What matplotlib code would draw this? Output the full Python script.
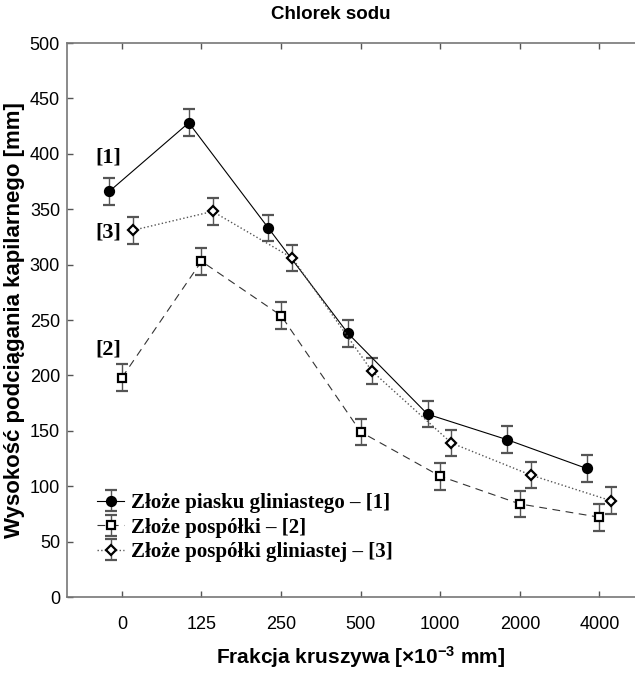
import numpy as np
import matplotlib.pyplot as plt

# Frakcje kruszywa (kategorie na osi X)
frakcje = ['0', '125', '250', '500', '1000', '2000', '4000']

# Wysokość podciągania kapilarnego [mm]
piasek_gliniasty = [366, 428, 333, 238, 165, 142, 116]
pospolka = [198, 303, 254, 149, 109, 84, 72]
pospolka_gliniasta = [331, 348, 306, 204, 139, 110, 87]

# Odchylenia (słupki błędów)
err_1 = [12, 12, 12, 12, 12, 12, 12]
err_2 = [12, 12, 12, 12, 12, 12, 12]
err_3 = [12, 12, 12, 12, 12, 12, 12]

x = np.arange(len(frakcje))

fig = plt.figure(figsize=(6.35, 6.73), dpi=100)
ax = fig.add_axes([0.1055, 0.1129, 0.925, 0.8232])

kw = dict(ecolor='#555555', elinewidth=1.0, capsize=4, capthick=1.0,
          markeredgewidth=1.6)

ax.errorbar(x - 0.16, piasek_gliniasty, yerr=err_1, fmt='o', color='black',
            ls='-', lw=0.8, mfc='black', mec='black', markersize=6.5,
            label='Złoże piasku gliniastego – [1]', **kw)
ax.errorbar(x, pospolka, yerr=err_2, fmt='s', color='#333333',
            ls=(0, (7, 5)), lw=0.8, mfc='white', mec='black', markersize=5.5,
            label='Złoże pospółki – [2]', **kw)
ax.errorbar(x + 0.14, pospolka_gliniasta, yerr=err_3, fmt='D', color='#555555',
            ls=':', lw=1.0, mfc='white', mec='black', markersize=5,
            label='Złoże pospółki gliniastej – [3]', **kw)

# Oznaczenia serii przy pierwszych punktach
for txt, yv in [('[1]', 397), ('[3]', 329), ('[2]', 223)]:
    ax.text(-0.01, yv, txt, ha='right', va='center', fontsize=16,
            fontweight='bold', family='Liberation Serif')

ax.set_xlim(-0.69, 6.69)
ax.set_ylim(0, 500)
ax.set_yticks(np.arange(0, 501, 50))
ax.set_xticks(x)
ax.set_xticklabels(frakcje)
ax.tick_params(direction='in', length=4, width=1, color='#555555',
               labelsize=13, top=True)
ax.tick_params(axis='y', pad=5)
ax.tick_params(axis='x', pad=14)
for side in ['left', 'top', 'bottom']:
    ax.spines[side].set_color('#777777')
    ax.spines[side].set_linewidth(1.2)
ax.spines['right'].set_visible(False)

for lab in ax.get_xticklabels() + ax.get_yticklabels():
    lab.set_family('Liberation Sans')

fig.text(0.521, 0.979, 'Chlorek sodu', ha='center', va='center',
         fontsize=13.5, fontweight='bold', family='Liberation Sans')
ax.set_ylabel('Wysokość podciągania kapilarnego [mm]', fontsize=16,
              fontweight='bold', family='Liberation Sans')
ax.yaxis.set_label_coords(-0.071, 0.5)
ax.set_xlabel(r'Frakcja kruszywa [$\mathregular{{\times}10^{-3}}$ mm]',
              fontsize=15, fontweight='bold', family='Liberation Sans',
              labelpad=8)

leg = ax.legend(loc='upper left', bbox_to_anchor=(0.137, 0.283),
                bbox_transform=fig.transFigure, frameon=False,
                prop={'family': 'Liberation Serif', 'weight': 'bold', 'size': 15},
                handlelength=1.3, handletextpad=0.3, labelspacing=0.22,
                borderpad=0)

fig.savefig('out.png', dpi=100)
